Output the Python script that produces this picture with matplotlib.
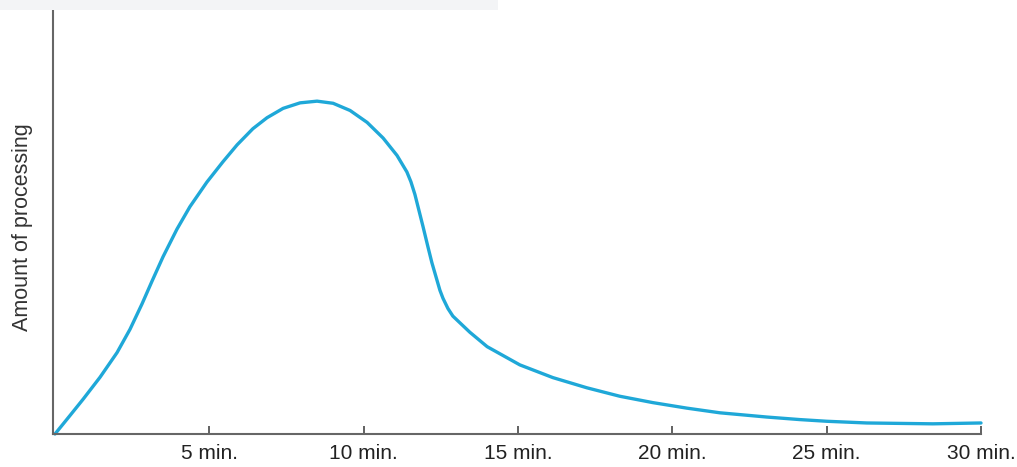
import matplotlib.pyplot as plt
from matplotlib.patches import Rectangle

plt.rcParams['font.family'] = ['Liberation Sans', 'DejaVu Sans']

# time (min) vs amount of processing
minutes = [0.0, 0.49, 0.91, 1.46, 2.01, 2.43, 2.82, 3.14, 3.50, 3.95, 4.37, 4.92,
           5.44, 5.90, 6.41, 6.87, 7.39, 7.94, 8.49, 9.01, 9.56, 10.11, 10.63,
           11.08, 11.40, 11.53, 11.66, 11.92, 12.08, 12.21, 12.37, 12.47, 12.57,
           12.73, 12.89, 13.44, 14.0, 15.06, 16.13, 17.23, 18.30, 19.37, 20.47,
           21.54, 23.06, 24.13, 25.01, 26.30, 28.44, 30.0]
amount = [0.0, 4.4, 8.2, 13.4, 19.2, 24.7, 30.7, 36.0, 41.8, 48.3, 53.6, 59.4,
          64.2, 68.2, 72.0, 74.6, 76.8, 78.1, 78.5, 78.0, 76.3, 73.5, 69.8,
          65.7, 61.8, 59.5, 56.5, 49.0, 44.2, 40.4, 36.4, 33.9, 32.0,
          29.6, 27.8, 24.0, 20.6, 16.3, 13.3, 10.9, 8.9, 7.4, 6.1,
          5.0, 4.0, 3.4, 3.0, 2.6, 2.4, 2.6]

tick_pos = [5, 10, 15, 20, 25, 30]
tick_labels = ['5 min.', '10 min.', '15 min.', '20 min.', '25 min.', '30 min.']

fig = plt.figure(figsize=(10.17, 4.67), dpi=100)
# faint grey strip along the top edge
fig.patches.append(Rectangle((0, 1 - 10 / 467), 0.49, 10 / 467, transform=fig.transFigure,
                             facecolor='#f3f4f6', edgecolor='none', zorder=0))

ax = fig.add_axes([53 / 1017, 33 / 467, 928 / 1017, 424 / 467])
ax.plot(minutes, amount, color='#1fa8d8', linewidth=2.4, solid_capstyle='round',
        solid_joinstyle='round', clip_on=False)

ax.set_xlim(-0.065, 30)
ax.set_ylim(0, 100)

for side in ['top', 'right']:
    ax.spines[side].set_visible(False)
for side in ['left', 'bottom']:
    ax.spines[side].set_color('#666666')
    ax.spines[side].set_linewidth(1.5)

ax.set_xticks(tick_pos)
ax.set_xticklabels(tick_labels, fontsize=15, color='#222222')
ax.tick_params(axis='x', direction='in', length=6, width=1.3, color='#555555', pad=7)
ax.set_yticks([])

ax.set_ylabel('Amount of processing', fontsize=15.5, color='#333333')
ax.yaxis.set_label_coords(-0.0216, 0.489)

fig.savefig('out.png', dpi=100)
